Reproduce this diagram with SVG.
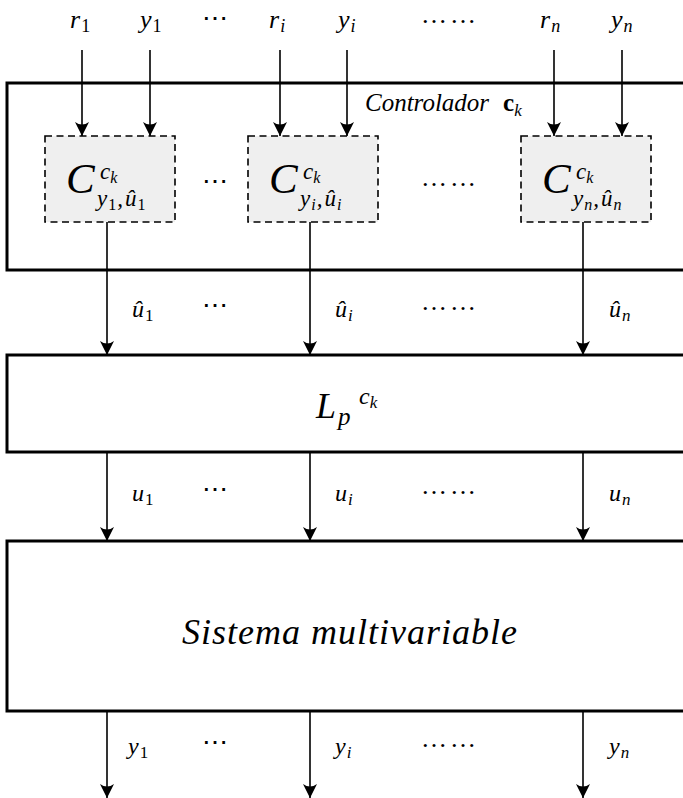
<svg xmlns="http://www.w3.org/2000/svg" width="683" height="798" viewBox="0 0 683 798">
<style>
.box{fill:#fff;stroke:#000;stroke-width:3}
.dbox{fill:#efefef;stroke:#000;stroke-width:1.6;stroke-dasharray:7,4.5}
.ln{stroke:#000;stroke-width:1.6;fill:none;marker-end:url(#ah)}
.m{font-family:"Liberation Serif","Times New Roman",serif;font-style:italic;fill:#000}
.n{font-family:"Liberation Serif","Times New Roman",serif;font-style:normal;fill:#000}
.d3{font-family:"Liberation Serif",serif;fill:#000;font-size:26px}
.d6{font-family:"Liberation Serif",serif;fill:#000;font-size:26px;letter-spacing:3px}
.lab{font-size:26px}
.sub{font-size:18px}
.mid{font-size:24px}
.msub{font-size:17px}
</style>
<defs>
<marker id="ah" markerUnits="userSpaceOnUse" markerWidth="20" markerHeight="20" refX="0" refY="0" viewBox="-16 -10 20 20" orient="auto" overflow="visible">
<path d="M0,0 L-14,-7 Q-9,0 -14,7 Z" fill="#000"/>
</marker>
</defs>

<g id="controller">
<rect class="box" x="7" y="83" width="690" height="187"/>
<text class="m" x="365" y="111" font-size="25">Controlador<tspan class="n" font-weight="bold" dx="14">c</tspan><tspan font-size="17" dy="5">k</tspan></text>
</g>

<g id="C1">
<rect class="dbox" x="45" y="136" width="130" height="86"/>
<text class="m" x="66" y="193" font-size="43">C</text>
<text class="m" x="100" y="179" font-size="23">c<tspan font-size="16" dy="4">k</tspan></text>
<text class="m" x="97" y="206" font-size="23">y<tspan class="n" font-size="16" dy="4" dx="1">1</tspan><tspan dy="-4" dx="1">,</tspan><tspan dx="2">û</tspan><tspan class="n" font-size="16" dy="4" dx="1">1</tspan></text>
</g>
<g id="Ci">
<rect class="dbox" x="248" y="136" width="130" height="86"/>
<text class="m" x="269" y="193" font-size="43">C</text>
<text class="m" x="303" y="179" font-size="23">c<tspan font-size="16" dy="4">k</tspan></text>
<text class="m" x="300" y="206" font-size="23">y<tspan font-size="16" dy="4" dx="1">i</tspan><tspan dy="-4" dx="1">,</tspan><tspan dx="2">û</tspan><tspan font-size="16" dy="4" dx="1">i</tspan></text>
</g>
<g id="Cn">
<rect class="dbox" x="521" y="136" width="130" height="86"/>
<text class="m" x="542" y="193" font-size="43">C</text>
<text class="m" x="576" y="179" font-size="23">c<tspan font-size="16" dy="4">k</tspan></text>
<text class="m" x="573" y="206" font-size="23">y<tspan font-size="16" dy="4" dx="1">n</tspan><tspan dy="-4" dx="1">,</tspan><tspan dx="2">û</tspan><tspan font-size="16" dy="4" dx="1">n</tspan></text>
</g>
<text class="d3" x="215" y="190" text-anchor="middle">⋯</text>
<text class="d6" x="450" y="186" text-anchor="middle">……</text>

<g id="Lp">
<rect class="box" x="7" y="355" width="690" height="97"/>
<text class="m" x="316" y="418" font-size="36">L</text>
<text class="m" x="338" y="425" font-size="25">p</text>
<text class="m" x="359" y="404" font-size="24">c<tspan font-size="17" dy="4">k</tspan></text>
</g>

<g id="system">
<rect class="box" x="7" y="541" width="690" height="170"/>
<text class="m" x="350" y="644" font-size="36" text-anchor="middle" letter-spacing="1">Sistema multivariable</text>
</g>

<g id="connectors">
<line class="ln" x1="82" y1="50" x2="82" y2="136"/>
<line class="ln" x1="150" y1="50" x2="150" y2="136"/>
<line class="ln" x1="280" y1="50" x2="280" y2="136"/>
<line class="ln" x1="347" y1="50" x2="347" y2="136"/>
<line class="ln" x1="554" y1="50" x2="554" y2="136"/>
<line class="ln" x1="622" y1="50" x2="622" y2="136"/>
<line class="ln" x1="107" y1="222" x2="107" y2="355"/>
<line class="ln" x1="310" y1="222" x2="310" y2="355"/>
<line class="ln" x1="583" y1="222" x2="583" y2="355"/>
<line class="ln" x1="107" y1="452" x2="107" y2="541"/>
<line class="ln" x1="310" y1="452" x2="310" y2="541"/>
<line class="ln" x1="583" y1="452" x2="583" y2="541"/>
<line class="ln" x1="107" y1="711" x2="107" y2="798"/>
<line class="ln" x1="310" y1="711" x2="310" y2="798"/>
<line class="ln" x1="583" y1="711" x2="583" y2="798"/>
</g>

<g id="labels">
<text class="m lab" x="70" y="28">r<tspan class="n sub" dy="4" dx="1">1</tspan></text>
<text class="m lab" x="140" y="28">y<tspan class="n sub" dy="4" dx="1">1</tspan></text>
<text class="d3" x="215" y="27" text-anchor="middle">⋯</text>
<text class="m lab" x="269" y="28">r<tspan class="sub" dy="4" dx="1">i</tspan></text>
<text class="m lab" x="338" y="28">y<tspan class="sub" dy="4" dx="1">i</tspan></text>
<text class="d6" x="450" y="23" text-anchor="middle">……</text>
<text class="m lab" x="540" y="28">r<tspan class="sub" dy="4" dx="1">n</tspan></text>
<text class="m lab" x="611" y="28">y<tspan class="sub" dy="4" dx="1">n</tspan></text>

<text class="m mid" x="132" y="317">û<tspan class="n msub" dy="4" dx="1">1</tspan></text>
<text class="d3" x="215" y="314" text-anchor="middle">⋯</text>
<text class="m mid" x="335" y="317">û<tspan class="msub" dy="4" dx="1">i</tspan></text>
<text class="d6" x="450" y="310" text-anchor="middle">……</text>
<text class="m mid" x="609" y="317">û<tspan class="msub" dy="4" dx="1">n</tspan></text>

<text class="m mid" x="132" y="501">u<tspan class="n msub" dy="4" dx="1">1</tspan></text>
<text class="d3" x="215" y="498" text-anchor="middle">⋯</text>
<text class="m mid" x="335" y="501">u<tspan class="msub" dy="4" dx="1">i</tspan></text>
<text class="d6" x="450" y="494" text-anchor="middle">……</text>
<text class="m mid" x="609" y="501">u<tspan class="msub" dy="4" dx="1">n</tspan></text>

<text class="m mid" x="128" y="754">y<tspan class="n msub" dy="4" dx="1">1</tspan></text>
<text class="d3" x="215" y="751" text-anchor="middle">⋯</text>
<text class="m mid" x="335" y="754">y<tspan class="msub" dy="4" dx="1">i</tspan></text>
<text class="d6" x="450" y="747" text-anchor="middle">……</text>
<text class="m mid" x="609" y="754">y<tspan class="msub" dy="4" dx="1">n</tspan></text>
</g>
</svg>
